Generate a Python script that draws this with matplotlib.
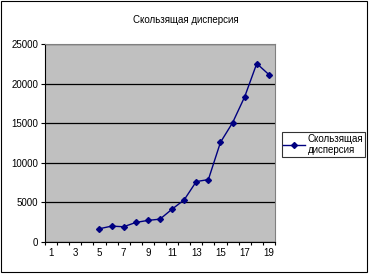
import matplotlib
matplotlib.use("Agg")
import matplotlib.pyplot as plt
from matplotlib.ticker import FixedLocator

plt.rcParams['font.family'] = ['Liberation Sans', 'DejaVu Sans']

# data
periods = [5, 6, 7, 8, 9, 10, 11, 12, 13, 14, 15, 16, 17, 18, 19]
variance = [1680, 2010, 1930, 2470, 2730, 2890, 4150, 5320, 7630, 7880,
            12580, 15050, 18320, 22520, 21130]
x_labels = [1, 3, 5, 7, 9, 11, 13, 15, 17, 19]
y_ticks = [0, 5000, 10000, 15000, 20000, 25000]
title = "Скользящая дисперсия"
series_name = "Скользящая\nдисперсия"

fig = plt.figure(figsize=(3.72, 2.76), dpi=100)
# chart area border
fig.patches.append(plt.Rectangle((0.003, 0.014), 0.984, 0.982, transform=fig.transFigure,
                                 fill=False, edgecolor='black', linewidth=0.8))
ax = fig.add_axes([0.121, 0.123, 0.618, 0.718])
ax.set_facecolor('#c0c0c0')

ax.plot(periods, variance, color='#000080', linewidth=1.0, marker='D',
        markersize=3, label=series_name)

ax.set_xlim(0.5, 19.5)
ax.set_ylim(0, 25000)
ax.set_yticks(y_ticks)
ax.set_yticklabels([str(v) for v in y_ticks])
ax.yaxis.grid(True, color='black', linewidth=0.9)
ax.set_axisbelow(True)

ax.set_xticks(x_labels)
ax.set_xticklabels([str(v) for v in x_labels])
ax.xaxis.set_minor_locator(FixedLocator([i + 0.5 for i in range(0, 20)]))
ax.tick_params(axis='x', which='major', length=0, pad=4, labelsize=7)
ax.tick_params(axis='x', which='minor', length=2.5, direction='out', width=0.8)
ax.tick_params(axis='y', length=3, width=0.8, labelsize=7, pad=2)

for s in ['top', 'right']:
    ax.spines[s].set_color('#808080')
    ax.spines[s].set_linewidth(0.8)
for s in ['left', 'bottom']:
    ax.spines[s].set_color('black')
    ax.spines[s].set_linewidth(0.8)

fig.text(0.5, 0.928, title, ha='center', va='center', fontsize=7)

leg = fig.legend(loc='center left', bbox_to_anchor=(0.758, 0.476), fontsize=7,
                 frameon=True, fancybox=False, edgecolor='black',
                 handlelength=2.2, borderpad=0.15, handletextpad=0.3,
                 borderaxespad=0, labelspacing=0.2)
leg.get_frame().set_linewidth(0.8)

fig.savefig('out.png', dpi=100)
